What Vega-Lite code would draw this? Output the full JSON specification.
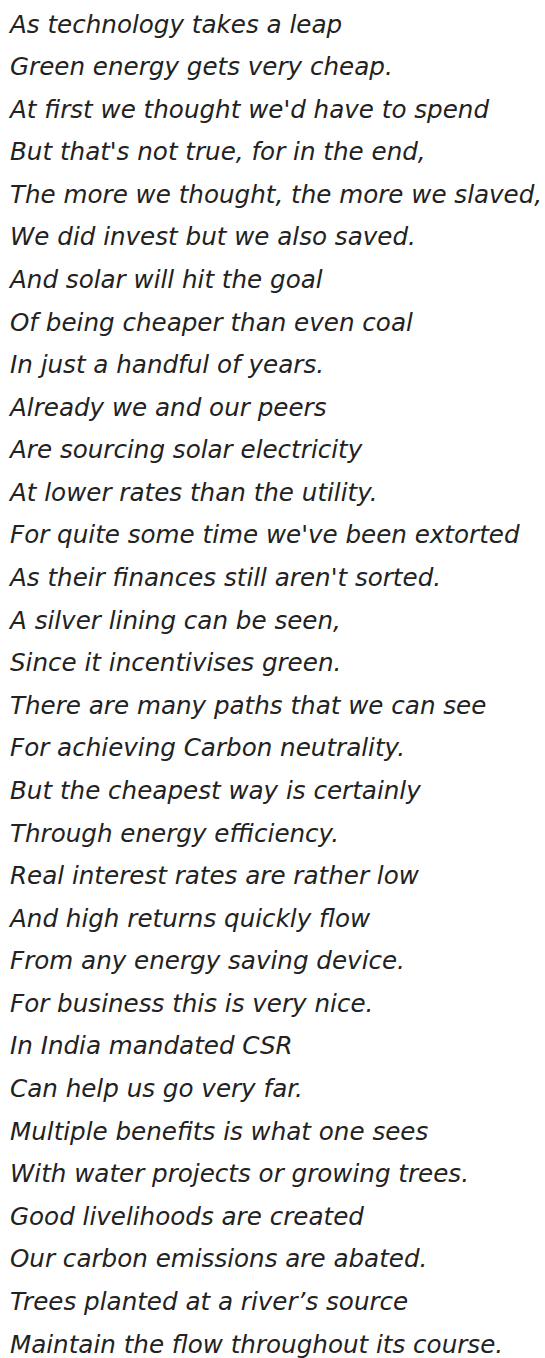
{
  "$schema": "https://vega.github.io/schema/vega-lite/v6.json",
  "width": 535,
  "height": 1358,
  "padding": {"left": 10, "right": 0, "top": 0, "bottom": 0},
  "autosize": {"type": "none"},
  "background": "#ffffff",
  "config": {"view": {"stroke": null}},
  "data": {"values": [
    {"line": 1, "text": "As technology takes a leap"},
    {"line": 2, "text": "Green energy gets very cheap."},
    {"line": 3, "text": "At first we thought we'd have to spend"},
    {"line": 4, "text": "But that's not true, for in the end,"},
    {"line": 5, "text": "The more we thought, the more we slaved,"},
    {"line": 6, "text": "We did invest but we also saved."},
    {"line": 7, "text": "And solar will hit the goal"},
    {"line": 8, "text": "Of being cheaper than even coal"},
    {"line": 9, "text": "In just a handful of years."},
    {"line": 10, "text": "Already we and our peers"},
    {"line": 11, "text": "Are sourcing solar electricity"},
    {"line": 12, "text": "At lower rates than the utility."},
    {"line": 13, "text": "For quite some time we've been extorted"},
    {"line": 14, "text": "As their finances still aren't sorted."},
    {"line": 15, "text": "A silver lining can be seen,"},
    {"line": 16, "text": "Since it incentivises green."},
    {"line": 17, "text": "There are many paths that we can see"},
    {"line": 18, "text": "For achieving Carbon neutrality."},
    {"line": 19, "text": "But the cheapest way is certainly"},
    {"line": 20, "text": "Through energy efficiency."},
    {"line": 21, "text": "Real interest rates are rather low"},
    {"line": 22, "text": "And high returns quickly flow"},
    {"line": 23, "text": "From any energy saving device."},
    {"line": 24, "text": "For business this is very nice."},
    {"line": 25, "text": "In India mandated CSR"},
    {"line": 26, "text": "Can help us go very far."},
    {"line": 27, "text": "Multiple benefits is what one sees"},
    {"line": 28, "text": "With water projects or growing trees."},
    {"line": 29, "text": "Good livelihoods are created"},
    {"line": 30, "text": "Our carbon emissions are abated."},
    {"line": 31, "text": "Trees planted at a river’s source"},
    {"line": 32, "text": "Maintain the flow throughout its course."}
  ]},
  "mark": {
    "type": "text",
    "align": "left",
    "baseline": "alphabetic",
    "font": "DejaVu Sans",
    "fontStyle": "italic",
    "fontSize": 24.6,
    "color": "#222222"
  },
  "encoding": {
    "x": {"value": 0},
    "y": {"field": "line", "type": "quantitative", "axis": null, "scale": {"domain": [1, 32], "range": [32.5, 1352.5]}},
    "text": {"field": "text", "type": "nominal"}
  }
}
